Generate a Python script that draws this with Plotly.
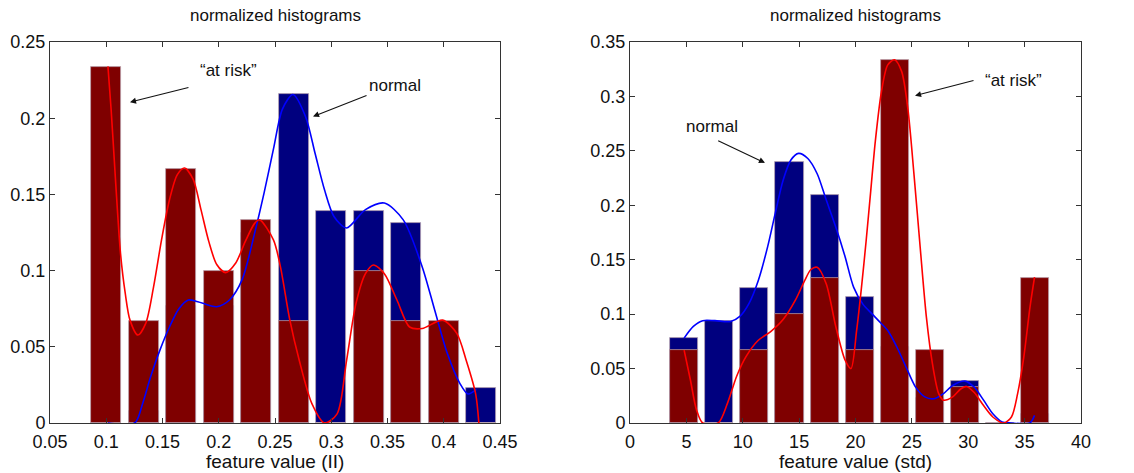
import plotly.graph_objects as go

# ---------------- data: left panel (feature II) ----------------
ll_centers = [0.1, 0.1333, 0.1667, 0.2, 0.2333, 0.2667, 0.3, 0.3333, 0.3667, 0.4, 0.4333]
ll_normal = [0.0, 0.008, 0.077, 0.077, 0.125, 0.216, 0.139, 0.139, 0.131, 0.060, 0.023]
ll_risk = [0.2333, 0.0667, 0.1667, 0.1, 0.1333, 0.0667, 0.0, 0.1, 0.0667, 0.0667, 0.0]

ll_curve_normal_x = [0.1015, 0.1253, 0.1323, 0.1393, 0.1478, 0.1562, 0.1646, 0.173, 0.1814,
                     0.1982, 0.2095, 0.2207, 0.2319, 0.2403, 0.2487, 0.2566, 0.266, 0.2772,
                     0.2856, 0.294, 0.3024, 0.3136, 0.3304, 0.3472, 0.364, 0.3808, 0.392,
                     0.4032, 0.4144, 0.4216, 0.429]
ll_curve_normal_y = [0.0, 0.0, 0.0127, 0.030, 0.048, 0.063, 0.075, 0.0807, 0.0796,
                     0.0763, 0.0807, 0.0939, 0.1246, 0.151, 0.180, 0.206, 0.2156, 0.201,
                     0.177, 0.153, 0.1355, 0.128, 0.140, 0.1443, 0.1333, 0.1026, 0.074,
                     0.0456, 0.0259, 0.019, 0.022]

ll_curve_risk_x = [0.1015, 0.1043, 0.1071, 0.1099, 0.1127, 0.1169, 0.1211, 0.1281, 0.1351,
                   0.1421, 0.1491, 0.1562, 0.1632, 0.1696, 0.1772, 0.1842, 0.1912, 0.1982,
                   0.2061, 0.2151, 0.2235, 0.2319, 0.2363, 0.2487, 0.2548, 0.2632, 0.2716,
                   0.2828, 0.294, 0.3052, 0.3136, 0.322, 0.3304, 0.3374, 0.3472, 0.3584,
                   0.3696, 0.3808, 0.399, 0.4116, 0.42, 0.4284, 0.4312]
ll_curve_risk_y = [0.234, 0.206, 0.173, 0.140, 0.111, 0.085, 0.0675, 0.0577, 0.0654,
                   0.0895, 0.120, 0.1465, 0.163, 0.1673, 0.160, 0.140, 0.119, 0.104,
                   0.0987, 0.105, 0.119, 0.131, 0.1333, 0.120, 0.1026, 0.0675, 0.041,
                   0.0127, 0.0, 0.006, 0.041, 0.0785, 0.098, 0.1037, 0.098, 0.0807,
                   0.063, 0.062, 0.0675, 0.0588, 0.041, 0.019, 0.0]

# ---------------- data: right panel (feature std) ----------------
rr_centers = [4.8, 7.92, 11.03, 14.15, 17.26, 20.38, 23.49, 26.61, 29.72, 32.84, 35.95]
rr_normal = [0.078, 0.094, 0.124, 0.240, 0.209, 0.116, 0.070, 0.023, 0.039, 0.0, 0.008]
rr_risk = [0.0667, 0.0, 0.0667, 0.1, 0.1333, 0.0667, 0.3333, 0.0667, 0.0333, 0.0, 0.1333]

rr_curve_normal_x = [4.8, 5.62, 6.45, 7.54, 8.92, 9.74, 10.56, 11.38, 12.21, 12.89, 13.58,
                     14.27, 14.95, 15.77, 16.6, 17.4, 18.25, 19.07, 19.84, 20.67, 21.49,
                     22.04, 22.86, 23.68, 24.5, 25.33, 26.15, 26.97, 27.8, 28.62, 29.72,
                     30.53, 31.36, 32.18, 33.0, 33.8, 35.47, 35.88]
rr_curve_normal_y = [0.078, 0.0887, 0.094, 0.094, 0.0933, 0.098, 0.110, 0.131, 0.162, 0.193, 0.223,
                     0.2416, 0.2477, 0.243, 0.229, 0.205, 0.180, 0.153, 0.1246, 0.109, 0.100,
                     0.094, 0.085, 0.0696, 0.051, 0.033, 0.024, 0.0223, 0.027, 0.0345, 0.0385,
                     0.033, 0.021, 0.0085, 0.001, 0.0, 0.0, 0.007]

rr_curve_risk_x = [4.8, 5.35, 5.9, 6.45, 7.82, 8.64, 9.46, 10.29, 11.38, 12.48, 13.58, 14.68,
                   15.5, 16.05, 16.6, 17.4, 18.25, 19.07, 19.6, 20.1, 20.53, 20.94, 21.35,
                   21.76, 22.31, 22.86, 23.46, 24.09, 24.64, 25.19, 25.74, 26.29, 26.83,
                   27.38, 27.8, 28.62, 29.3, 29.85, 30.53, 31.36, 32.18, 33.14, 33.83,
                   34.38, 34.92, 35.47, 35.88]
rr_curve_risk_y = [0.067, 0.040, 0.012, 0.0, 0.0, 0.018, 0.043, 0.061, 0.076, 0.084, 0.095, 0.113,
                   0.131, 0.141, 0.143, 0.128, 0.0887, 0.058, 0.050, 0.085, 0.1246, 0.167, 0.213,
                   0.259, 0.305, 0.329, 0.3337, 0.323, 0.289, 0.228, 0.161, 0.097, 0.054,
                   0.027, 0.021, 0.024, 0.031, 0.0336, 0.028, 0.016, 0.0055, 0.0, 0.0055,
                   0.027, 0.060, 0.106, 0.134]

x_tick_left = [0.05, 0.1, 0.15, 0.2, 0.25, 0.3, 0.35, 0.4, 0.45]
x_tick_left_text = ["0.05", "0.1", "0.15", "0.2", "0.25", "0.3", "0.35", "0.4", "0.45"]
y_tick_left = [0, 0.05, 0.1, 0.15, 0.2, 0.25]
y_tick_left_text = ["0", "0.05", "0.1", "0.15", "0.2", "0.25"]
x_tick_right = [0, 5, 10, 15, 20, 25, 30, 35, 40]
y_tick_right = [0, 0.05, 0.1, 0.15, 0.2, 0.25, 0.3, 0.35]
y_tick_right_text = ["0", "0.05", "0.1", "0.15", "0.2", "0.25", "0.3", "0.35"]

NAVY = "#00007f"
MAROON = "#7f0000"
EDGE = "rgba(185,165,175,0.9)"

fig = go.Figure()

def add_panel(xa, ya, centers, normal, risk, width, cnx, cny, crx, cry):
    fig.add_trace(go.Bar(x=centers, y=normal, width=width, marker_color=NAVY,
                         marker_line=dict(color=EDGE, width=0.8), xaxis=xa, yaxis=ya,
                         showlegend=False))
    fig.add_trace(go.Bar(x=centers, y=risk, width=width, marker_color=MAROON,
                         marker_line=dict(color=EDGE, width=0.8), xaxis=xa, yaxis=ya,
                         showlegend=False))
    fig.add_trace(go.Scatter(x=cnx, y=cny, mode="lines", line=dict(color="#0000ff", width=1.6,
                             shape="spline", smoothing=0.8), xaxis=xa, yaxis=ya, showlegend=False))
    fig.add_trace(go.Scatter(x=crx, y=cry, mode="lines", line=dict(color="#ff0000", width=1.6,
                             shape="spline", smoothing=0.8), xaxis=xa, yaxis=ya, showlegend=False))

add_panel("x", "y", ll_centers, ll_normal, ll_risk, 0.0263,
          ll_curve_normal_x, ll_curve_normal_y, ll_curve_risk_x, ll_curve_risk_y)
add_panel("x2", "y2", rr_centers, rr_normal, rr_risk, 2.5,
          rr_curve_normal_x, rr_curve_normal_y, rr_curve_risk_x, rr_curve_risk_y)

FONT = "Liberation Sans, Arial, sans-serif"
TICKFONT = dict(family=FONT, size=18, color="#111111")
axis_common = dict(showline=True, linecolor="#333333", linewidth=1, mirror="ticks",
                   ticks="inside", ticklen=5, tickcolor="#333333", showgrid=False,
                   zeroline=False, tickfont=TICKFONT, automargin=False)

y_dom = [1 - 423 / 473, 1 - 42 / 473]
fig.update_layout(
    width=1134, height=473,
    margin=dict(l=0, r=0, t=0, b=0),
    paper_bgcolor="white", plot_bgcolor="white",
    barmode="overlay", bargap=0,
    xaxis=dict(domain=[50 / 1134, 500 / 1134], range=[0.05, 0.45], tickvals=x_tick_left,
               ticktext=x_tick_left_text, anchor="y", ticklabelstandoff=2, **axis_common),
    yaxis=dict(domain=y_dom, range=[0, 0.25], tickvals=y_tick_left, ticktext=y_tick_left_text,
               anchor="x", **axis_common),
    xaxis2=dict(domain=[630 / 1134, 1081 / 1134], range=[0, 40], tickvals=x_tick_right, anchor="y2",
                ticklabelstandoff=2, **axis_common),
    yaxis2=dict(domain=y_dom, range=[0, 0.35], tickvals=y_tick_right, ticktext=y_tick_right_text,
                anchor="x2", **axis_common),
)

TITLEFONT = dict(family=FONT, size=17, color="#111111")
AXFONT = dict(family=FONT, size=19, color="#111111")
for cx, lbl in [((50 + 500) / 2 / 1134, "feature value (II)"),
                ((630 + 1081) / 2 / 1134, "feature value (std)")]:
    fig.add_annotation(text="normalized histograms", x=cx, y=1 - 15 / 473, xref="paper", yref="paper",
                       showarrow=False, font=TITLEFONT, xanchor="center", yanchor="middle")
    fig.add_annotation(text=lbl, x=cx, y=1 - 461 / 473, xref="paper", yref="paper",
                       showarrow=False, font=AXFONT, xanchor="center", yanchor="middle")

LBLFONT = dict(family=FONT, size=17, color="#111111")
ARROW = dict(showarrow=True, arrowhead=2, arrowsize=1.1, arrowwidth=1.1, arrowcolor="#111111")
# arrows (tail -> tip) in data coordinates
fig.add_annotation(x=0.1211, y=0.2105, ax=0.1744, ay=0.2204, xref="x", yref="y", axref="x", ayref="y",
                   text="", **ARROW)
fig.add_annotation(x=0.2087, y=0.2312, xref="x", yref="y", text="“at risk”", showarrow=False, font=LBLFONT)
fig.add_annotation(x=0.2838, y=0.2011, ax=0.3327, ay=0.2153, xref="x", yref="y", axref="x", ayref="y",
                   text="", **ARROW)
fig.add_annotation(x=0.3564, y=0.2213, xref="x", yref="y", text="normal", showarrow=False, font=LBLFONT)

fig.add_annotation(x=11.97, y=0.239, ax=7.69, ay=0.26, xref="x2", yref="y2", axref="x2", ayref="y2",
                   text="", **ARROW)
fig.add_annotation(x=7.29, y=0.272, xref="x2", yref="y2", text="normal", showarrow=False, font=LBLFONT)
fig.add_annotation(x=25.28, y=0.3007, ax=30.6, ay=0.315, xref="x2", yref="y2", axref="x2", ayref="y2",
                   text="", **ARROW)
fig.add_annotation(x=34.05, y=0.3148, xref="x2", yref="y2", text="“at risk”", showarrow=False, font=LBLFONT)

fig.write_html("out.html", config={"displayModeBar": False},
               post_script="document.body.style.margin='0px';document.body.style.overflow='hidden';")
